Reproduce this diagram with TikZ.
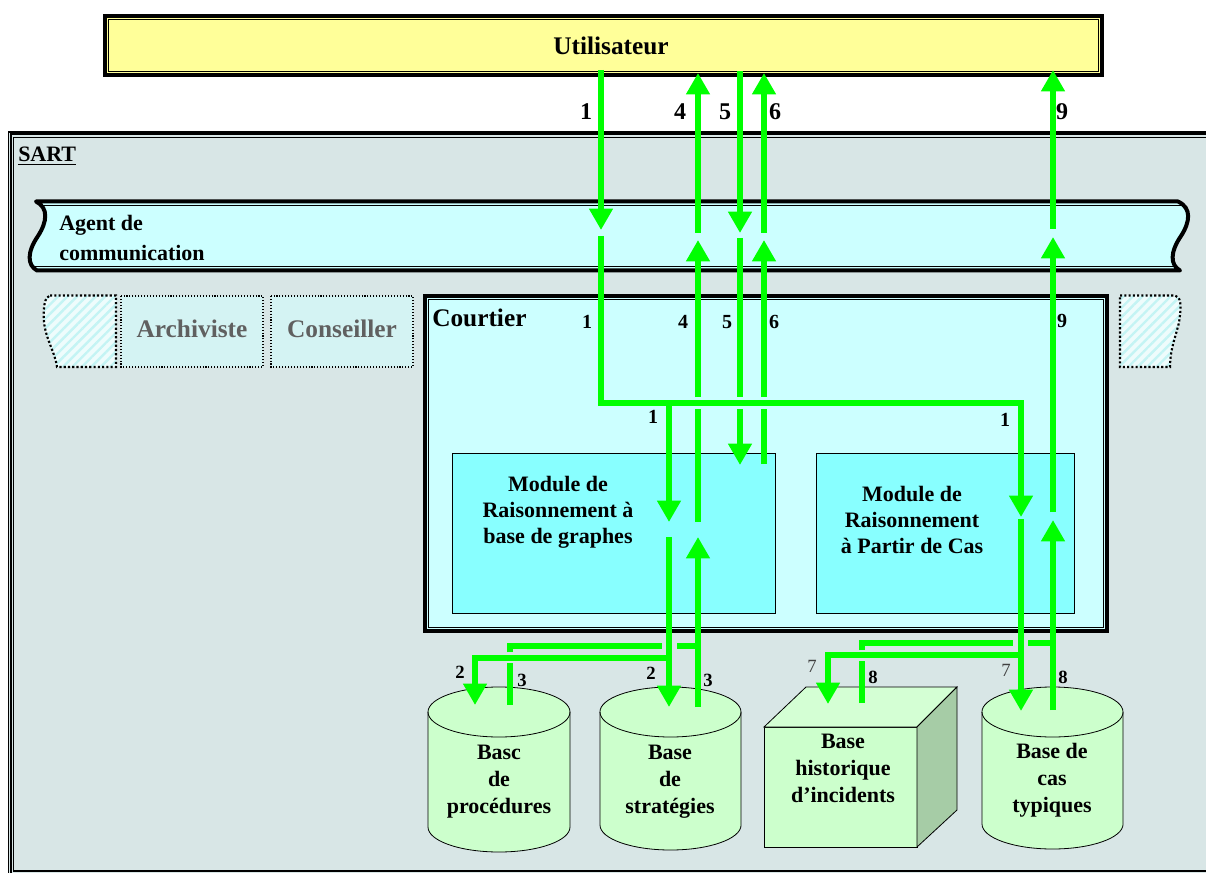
\documentclass[tikz,border=0pt]{standalone}
\usepackage{fontspec}
\setmainfont{Liberation Serif}
\usetikzlibrary{arrows.meta,patterns.meta}
\definecolor{grn}{HTML}{00FF00}
\definecolor{userfill}{HTML}{FFFF99}
\definecolor{sartbg}{HTML}{D8E6E6}
\definecolor{banfill}{HTML}{CCFFFF}
\definecolor{courfill}{HTML}{CCFFFF}
\definecolor{modfill}{HTML}{88FFFF}
\definecolor{dbfill}{HTML}{CCFFCC}
\definecolor{dbtop}{HTML}{D4FFD4}
\definecolor{dbside}{HTML}{A6CCA6}
\definecolor{archfill}{HTML}{D4F3F3}
\definecolor{hatchbg}{HTML}{EEFCFC}
\definecolor{hatchln}{HTML}{C4F4F4}
\definecolor{graytxt}{HTML}{606060}
\newcommand\myfs[2]{\fontsize{#1}{#2}\selectfont}
\begin{document}
\begin{tikzpicture}[x=0.75pt,y=-0.75pt,
  gl/.style={draw=grn, line width=4.5pt},
  ga/.style={gl, -{Triangle[width=17pt,length=16pt]}},
  bignum/.style={inner sep=0pt, font=\bfseries\myfs{18}{21}},
  num/.style={inner sep=0pt, font=\bfseries\myfs{15}{18}},
  smallnum/.style={inner sep=0pt, font=\bfseries\myfs{14}{17}},
  lightnum/.style={inner sep=0pt, font=\myfs{14}{17}, text=black!75},
  txt/.style={inner sep=0pt, font=\bfseries\myfs{16.5}{19.5}, align=center},
  dbtxt/.style={inner sep=0pt, font=\bfseries\myfs{16.5}{20.25}, align=center},
  bigtxt/.style={inner sep=0pt, font=\bfseries\myfs{19}{22}},
  dbline/.style={draw=black, line width=0.6pt},
  hatch/.style={fill=hatchbg, postaction={pattern={Lines[angle=45,distance=5pt,line width=1.8pt]}, pattern color=hatchln}},
  dotbox/.style={draw=black, line width=0.8pt, dash pattern=on 0.8pt off 1.4pt, fill=archfill}
]
\useasboundingbox (0,0) rectangle (1206,873);
\fill[white] (0,0) rectangle (1206,873);

% ---------- Utilisateur ----------
\fill[userfill] (103,14) rectangle (1104,77);
\draw[line width=3pt] (105,16) rectangle (1102,75);
\draw[line width=0.8pt] (108.5,19.5) rectangle (1098.5,71.5);
\node[bigtxt] (user) at (611,46) {Utilisateur};

% ---------- SART frame ----------
\fill[sartbg] (8,132) rectangle (1240,890);
\draw[line width=0.9pt] (8.5,132) rectangle (1240,877);
\draw[line width=1.5pt] (11,134.5) rectangle (1237,874);
\draw[line width=0.9pt] (13.5,137.5) rectangle (1234,871);
\node[txt, anchor=west] (sart) at (18,156) {\underline{SART}};

% ---------- Agent de communication ----------
\def\banner{(36,201.5) -- (1178,201.5) .. controls (1192,208) and (1190,222) .. (1181,236) .. controls (1170,252) and (1170,265) .. (1180,270.5) -- (37,270.5) .. controls (27,265) and (27,252) .. (38,236) .. controls (47,222) and (49,208) .. (36,201.5) -- cycle}
\fill[banfill] \banner;
\begin{scope}
  \clip \banner;
  \draw[line width=0.8pt] (0,205.5) -- (1206,205.5);
  \draw[line width=0.8pt] (0,266.5) -- (1206,266.5);
\end{scope}
\draw[line width=3pt, line join=round] \banner;
\node[txt, align=left, anchor=west, font=\bfseries\myfs{16.5}{22.5}] (agent) at (59,238) {Agent de\\communication};

% ---------- Archiviste / Conseiller ----------
\path[hatch] (50,295.5) -- (116,295.5) -- (116,367) -- (57,367) .. controls (55,352) and (46,340) .. (44,322) .. controls (43,305) and (45,297) .. (50,295.5) -- cycle;
\draw[line width=1.6pt, dash pattern=on 1.6pt off 1.6pt] (50,295.5) -- (116,295.5) -- (116,367) -- (57,367) .. controls (55,352) and (46,340) .. (44,322) .. controls (43,305) and (45,297) .. (50,295.5);
\draw[dotbox] (121,296) rectangle (263,367);
\node[bigtxt, text=graytxt] (archiviste) at (192,329) {Archiviste};
\draw[dotbox] (271,296) rectangle (413,367);
\node[bigtxt, text=graytxt] (conseiller) at (342,329) {Conseiller};
\path[hatch] (1120,295.5) -- (1175,295.5) .. controls (1181,297) and (1181,305) .. (1180,315) .. controls (1179,330) and (1170,345) .. (1170,367) -- (1120,367) -- cycle;
\draw[line width=1.6pt, dash pattern=on 1.6pt off 1.6pt] (1120,295.5) -- (1175,295.5) .. controls (1181,297) and (1181,305) .. (1180,315) .. controls (1179,330) and (1170,345) .. (1170,367) -- (1120,367) -- cycle;

% ---------- Courtier ----------
\fill[courfill] (423,294) rectangle (1109,633);
\draw[line width=3pt] (425,296) rectangle (1107,631);
\draw[line width=0.7pt] (428.5,299.5) rectangle (1103.5,627.5);
\node[bigtxt, anchor=west] (courtier) at (432,318) {Courtier};

% ---------- Modules ----------
\draw[fill=modfill, line width=0.7pt] (452,453) rectangle (775,613);
\node[txt] (mrbg) at (558,512) {Module de\\Raisonnement à\\base de graphes};
\draw[fill=modfill, line width=0.7pt] (816,453) rectangle (1074,613);
\node[txt] (mrpc) at (912,520) {Module de\\Raisonnement\\à Partir de Cas};

% ---------- Bases ----------
% procedures
\path[fill=dbfill, dbline] (428,712) -- (428,827) arc[start angle=180, end angle=360, x radius=53.25pt, y radius=18.75pt] -- (570,712) arc[start angle=0, end angle=180, x radius=53.25pt, y radius=18.75pt] -- cycle;
\draw[dbline] (428,712) arc[start angle=180, end angle=360, x radius=53.25pt, y radius=18.75pt];
\node[dbtxt] (bproc) at (499,782) {Basc\\de\\procédures};
% strategies
\path[fill=dbfill, dbline] (600,712) -- (600,825) arc[start angle=180, end angle=360, x radius=52.9pt, y radius=18.75pt] -- (741,712) arc[start angle=0, end angle=180, x radius=52.9pt, y radius=18.75pt] -- cycle;
\draw[dbline] (600,712) arc[start angle=180, end angle=360, x radius=52.9pt, y radius=18.75pt];
\node[dbtxt] (bstrat) at (670,782) {Base\\de\\stratégies};
% historique (cube)
\path[fill=dbfill, dbline] (764,727) rectangle (917,847);
\path[fill=dbtop, dbline] (764,727) -- (806,687) -- (957,687) -- (917,727) -- cycle;
\path[fill=dbside, dbline] (917,727) -- (957,687) -- (957,810) -- (917,847) -- cycle;
\node[dbtxt] (bhist) at (843,768) {Base\\historique\\d’incidents};
% cas typiques
\path[fill=dbfill, dbline] (982,712) -- (982,824) arc[start angle=180, end angle=360, x radius=52.9pt, y radius=18.75pt] -- (1123,712) arc[start angle=0, end angle=180, x radius=52.9pt, y radius=18.75pt] -- cycle;
\draw[dbline] (982,712) arc[start angle=180, end angle=360, x radius=52.9pt, y radius=18.75pt];
\node[dbtxt] (bcas) at (1052,780) {Base de\\cas\\typiques};

% ---------- coordinates for connectors ----------
% arrow 1
\coordinate (a1s) at (601,70);   \coordinate (a1t) at (601,230);
\coordinate (a1r) at (601,236);  \coordinate (a1k) at (601,403);
\coordinate (a1e) at (1021,403); \coordinate (a1et) at (1021,517);
\coordinate (a1b) at (669,403);  \coordinate (a1bt) at (669,522);
% arrow 2
\coordinate (a2s) at (669,537);  \coordinate (a2t) at (669,707);
\coordinate (a2j) at (669,658);  \coordinate (a2k) at (475,658); \coordinate (a2u) at (475,705);
% arrow 3
\coordinate (a3s) at (510,705);  \coordinate (a3g1) at (510,663);
\coordinate (a3g2) at (510,652); \coordinate (a3k) at (510,646);
\coordinate (a3h1) at (662,646); \coordinate (a3h2) at (677,646); \coordinate (a3j) at (698,646);
\coordinate (a3b) at (698,707);  \coordinate (a3t) at (698,537);
% arrow 4
\coordinate (a4s) at (698,522);  \coordinate (a4g1) at (698,409);
\coordinate (a4g2) at (698,397); \coordinate (a4t) at (698,240);
\coordinate (a4r) at (698,233);  \coordinate (a4u) at (698,73);
% arrow 5
\coordinate (a5s) at (740,71);   \coordinate (a5t) at (740,233);
\coordinate (a5r) at (740,238);  \coordinate (a5g1) at (740,397);
\coordinate (a5g2) at (740,409); \coordinate (a5u) at (740,465);
% arrow 6
\coordinate (a6s) at (764,464);  \coordinate (a6g1) at (764,409);
\coordinate (a6g2) at (764,397); \coordinate (a6t) at (764,240);
\coordinate (a6r) at (764,233);  \coordinate (a6u) at (764,73);
% arrow 7
\coordinate (a7s) at (1021,519); \coordinate (a7t) at (1021,711);
\coordinate (a7j) at (1021,655); \coordinate (a7k) at (828,655); \coordinate (a7u) at (828,704);
% arrow 8
\coordinate (a8s) at (862,703);  \coordinate (a8g1) at (862,661);
\coordinate (a8g2) at (862,650); \coordinate (a8k) at (862,643);
\coordinate (a8h1) at (1013,643); \coordinate (a8h2) at (1028,643); \coordinate (a8j) at (1053,643);
\coordinate (a8b) at (1053,710); \coordinate (a8t) at (1053,520);
% arrow 9
\coordinate (a9s) at (1053,512); \coordinate (a9t) at (1053,237);
\coordinate (a9r) at (1053,229); \coordinate (a9u) at (1053,70);

% ---------- connectors ----------
\draw[ga] (a1s) -- (a1t);
\draw[ga] (a1r) -- (a1k) -- (a1e) -- (a1et);
\draw[ga] (a1b) -- (a1bt);
\draw[ga] (a2s) -- (a2t);
\draw[ga] (a2j) -- (a2k) -- (a2u);
\draw[gl] (a3s) -- (a3g1);
\draw[gl] (a3g2) -- (a3k) -- (a3h1);
\draw[gl] (a3h2) -- (a3j);
\draw[ga] (a3b) -- (a3t);
\draw[gl] (a4s) -- (a4g1);
\draw[ga] (a4g2) -- (a4t);
\draw[ga] (a4r) -- (a4u);
\draw[ga] (a5s) -- (a5t);
\draw[gl] (a5r) -- (a5g1);
\draw[ga] (a5g2) -- (a5u);
\draw[gl] (a6s) -- (a6g1);
\draw[ga] (a6g2) -- (a6t);
\draw[ga] (a6r) -- (a6u);
\draw[ga] (a7s) -- (a7t);
\draw[ga] (a7j) -- (a7k) -- (a7u);
\draw[gl] (a8s) -- (a8g1);
\draw[gl] (a8g2) -- (a8k) -- (a8h1);
\draw[gl] (a8h2) -- (a8j);
\draw[ga] (a8b) -- (a8t);
\draw[ga] (a9s) -- (a9t);
\draw[ga] (a9r) -- (a9u);

% ---------- labels ----------
\node[bignum] (t1) at (586,112) {1};
\node[bignum] (t4) at (680,112) {4};
\node[bignum] (t5) at (725,112) {5};
\node[bignum] (t6) at (775,112) {6};
\node[bignum] (t9) at (1062,112) {9};
\node[num] (c1) at (587,322) {1};
\node[num] (c4) at (683,322) {4};
\node[num] (c5) at (727,322) {5};
\node[num] (c6) at (774,322) {6};
\node[num] (c9) at (1062,321) {9};
\node[num] (m1) at (653,417) {1};
\node[num] (m1b) at (1005,420) {1};
\node[smallnum] (b2a) at (460,672) {2};
\node[smallnum] (b3a) at (522,680) {3};
\node[smallnum] (b2b) at (651,673) {2};
\node[smallnum] (b3b) at (708,680) {3};
\node[lightnum] (b7a) at (812,666) {7};
\node[smallnum] (b8a) at (873,677) {8};
\node[lightnum] (b7b) at (1006,670) {7};
\node[smallnum] (b8b) at (1063,677) {8};
\end{tikzpicture}
\end{document}
